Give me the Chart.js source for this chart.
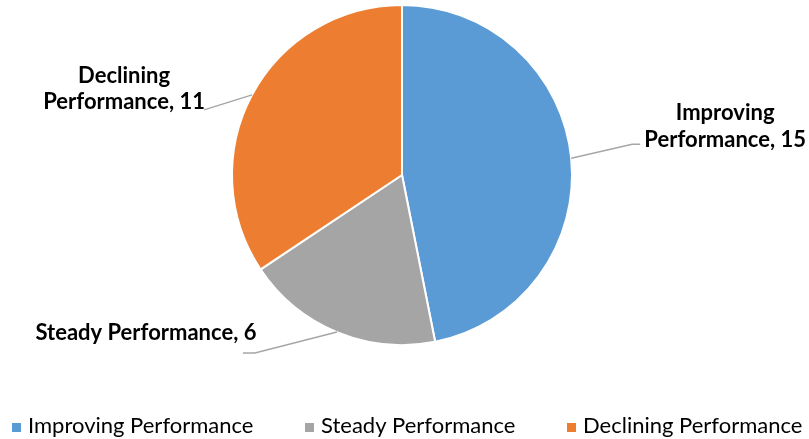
<!DOCTYPE html>
<html>
<head>
<meta charset="utf-8">
<script src="https://cdn.jsdelivr.net/npm/chart.js@4.4.0/dist/chart.umd.min.js"></script>
<style>
  html, body { margin: 0; padding: 0; background: #fff; }
  #wrap { width: 809px; height: 439px; }
</style>
</head>
<body>
<div id="wrap"><canvas id="myChart" width="809" height="439"></canvas></div>
<script>
var categories = ['Improving Performance', 'Steady Performance', 'Declining Performance'];
var counts = [15, 6, 11];
var colors = ['#5B9BD5', '#A5A5A5', '#ED7D31'];

// label placement, relative to the point on the rim at each slice's middle
var labelSpots = [
    { lines: ['Improving', 'Performance, 15'], tx: 154, ty: [-38, -11], path: [[61, -14], [69, -14]] },
    { lines: ['Steady Performance, 6'], tx: -191, ty: [8], path: [[-82, 21], [-94, 21]] },
    { lines: ['Declining', 'Performance, 11'], tx: -128, ty: [-12, 14], path: [[-48, 15]] }
];

// left edge of each legend entry
var legendX = [12, 305, 567];

var sliceLabels = {
    id: 'sliceLabels',
    afterDatasetsDraw: function(chart) {
        var ctx = chart.ctx;
        var meta = chart.getDatasetMeta(0);
        meta.data.forEach(function(arc, i) {
            var p = arc.getProps(['x', 'y', 'startAngle', 'endAngle', 'outerRadius'], true);
            var mid = (p.startAngle + p.endAngle) / 2;
            var x0 = p.x + Math.cos(mid) * p.outerRadius;
            var y0 = p.y + Math.sin(mid) * p.outerRadius;
            var spot = labelSpots[i];

            ctx.save();
            ctx.strokeStyle = '#A6A6A6';
            ctx.lineWidth = 1.5;
            ctx.beginPath();
            ctx.moveTo(x0, y0);
            spot.path.forEach(function(pt) { ctx.lineTo(x0 + pt[0], y0 + pt[1]); });
            ctx.stroke();

            ctx.fillStyle = '#000';
            ctx.font = 'bold 22px Lato';
            ctx.textAlign = 'center';
            ctx.textBaseline = 'alphabetic';
            spot.lines.forEach(function(t, k) {
                ctx.fillText(t, x0 + spot.tx, y0 + spot.ty[k]);
            });
            ctx.restore();
        });
    }
};

// legend row under the pie
var bottomLegend = {
    id: 'bottomLegend',
    afterDraw: function(chart) {
        var ctx = chart.ctx;
        ctx.save();
        ctx.font = '22px Lato';
        ctx.textBaseline = 'alphabetic';
        ctx.textAlign = 'left';
        var box = 9, gap = 7;
        categories.forEach(function(c, i) {
            var x = legendX[i];
            ctx.fillStyle = colors[i];
            ctx.fillRect(x, 423, box, box);
            ctx.fillStyle = '#000';
            ctx.fillText(c, x + box + gap, 433);
        });
        ctx.restore();
    }
};

var ctx = document.getElementById('myChart').getContext('2d');
var chart = new Chart(ctx, {
    type: 'pie',
    data: {
        labels: categories,
        datasets: [{
            data: counts,
            backgroundColor: colors,
            borderColor: '#ffffff',
            borderWidth: 2
        }]
    },
    options: {
        responsive: false,
        animation: false,
        layout: { padding: { top: 4, left: 0, right: 5, bottom: 93 } },
        plugins: {
            legend: { display: false },
            tooltip: { enabled: false }
        }
    },
    plugins: [sliceLabels, bottomLegend]
});
</script>
</body>
</html>
